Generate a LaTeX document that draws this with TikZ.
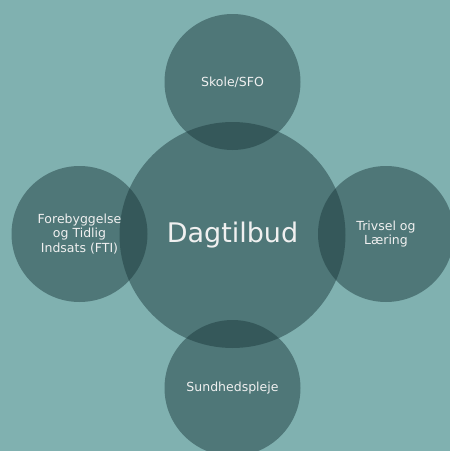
\documentclass[tikz,border=0pt]{standalone}
\usepackage{fontspec}
\setmainfont{DejaVu Sans}
\usetikzlibrary{positioning}
\definecolor{bgteal}{RGB}{128,177,176}
\definecolor{darkteal}{RGB}{26,56,59}
\tikzset{
  bubble/.style={circle,inner sep=0pt,fill=darkteal,fill opacity=.48,
    text opacity=1,text=white!94!black,align=center,font=\fontsize{12.5}{14.5}\selectfont},
  small/.style={bubble,minimum size=136pt},
  big/.style={bubble,minimum size=226pt,font=\fontsize{27}{29}\selectfont}
}

\begin{document}
\begin{tikzpicture}[x=1pt,y=-1pt]
\useasboundingbox (0,0) rectangle (450,451);
\clip (0,0) rectangle (450,451);
\fill[bgteal] (0,0) rectangle (450,451);
\node[big]   (dag)    at (232.5,235) {Dagtilbud};
\node[small] (skole)  at (232.5,82)  {Skole/SFO};
\node[small] (fti)    at (79.5,234)  {Forebyggelse\\og Tidlig\\Indsats (FTI)};
\node[small] (trivsel) at (386,234)  {Trivsel og\\Læring};
\node[small] (sund)   at (232.5,388) {Sundhedspleje};
\end{tikzpicture}
\end{document}
